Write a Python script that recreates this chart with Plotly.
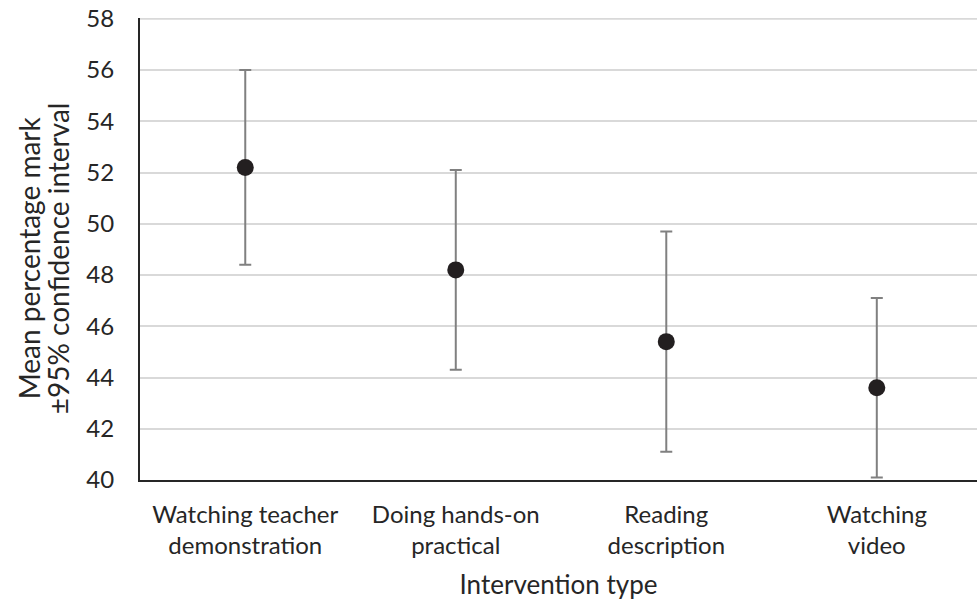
import plotly.graph_objects as go

categories = ["Watching teacher<br>demonstration", "Doing hands-on<br>practical",
              "Reading<br>description", "Watching<br>video"]
means = [52.2, 48.2, 45.4, 43.6]
upper = [56.0, 52.1, 49.7, 47.1]
lower = [48.4, 44.3, 41.1, 40.1]
y_title_lines = ["Mean percentage mark", "±95% confidence interval"]
Y_MIN, Y_MAX = 40, 58

err_plus = [u - m for u, m in zip(upper, means)]
err_minus = [m - l for m, l in zip(means, lower)]

FONT = "Lato, 'Open Sans', sans-serif"
TEXT = "#262626"

fig = go.Figure()
fig.add_trace(go.Scatter(
    x=categories, y=means, mode="markers",
    marker=dict(color="#231f20", size=17),
    error_y=dict(type="data", symmetric=False, array=err_plus, arrayminus=err_minus,
                 color="#808080", thickness=2, width=6),
    showlegend=False, cliponaxis=False,
))

# top gridline (plotly drops the gridline at the range edge)
fig.add_hline(y=Y_MAX, line=dict(color="#d9d9d9", width=2), layer="below")

# two-line rotated y-axis title with tight line spacing
for i, line in enumerate(y_title_lines):
    fig.add_annotation(
        text=line, xref="paper", yref="paper", x=-0.1325 + i * 0.0345, y=0.48,
        xanchor="center", yanchor="middle", textangle=-90, showarrow=False,
        font=dict(family=FONT, size=28, color=TEXT),
    )

fig.update_layout(
    width=977, height=605,
    margin=dict(l=140, r=0, t=18, b=125),
    paper_bgcolor="white", plot_bgcolor="white",
    font=dict(family=FONT, size=24, color=TEXT),
    xaxis=dict(
        range=[-0.5, 3.476], showgrid=False, showline=True, linecolor="#262626", linewidth=2,
        ticks="", tickfont=dict(size=24), ticklabelstandoff=12, automargin=False,
        title=dict(text="Intervention type", font=dict(size=26), standoff=18),
    ),
    yaxis=dict(
        range=[Y_MIN, Y_MAX + 0.03], dtick=2, tick0=Y_MIN, showgrid=True, gridcolor="#d9d9d9", gridwidth=2,
        showline=True, linecolor="#262626", linewidth=2, zeroline=False,
        ticks="", tickfont=dict(size=24), ticklabelstandoff=19, automargin=False,
        ticklabeloverflow="allow",
    ),
)

fig.write_html("out.html", config={"displayModeBar": False},
               post_script="document.body.style.margin='0';")
